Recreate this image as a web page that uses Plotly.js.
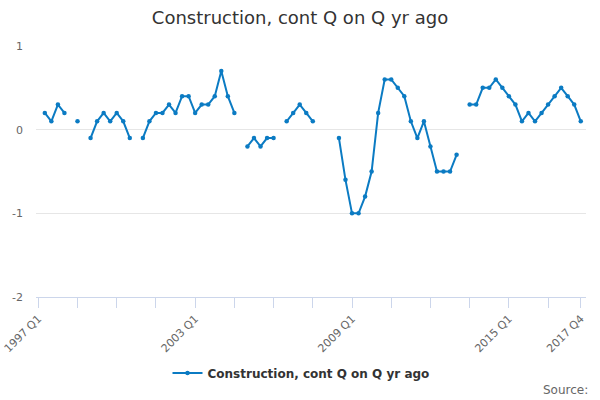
<!DOCTYPE html>
<html>
<head>
<meta charset="utf-8">
<script src="https://cdn.plot.ly/plotly-3.0.1.min.js"></script>
<style>html,body{margin:0;padding:0;background:#fff;}#chart{width:600px;height:400px;}</style>
</head>
<body>
<div id="chart"></div>
<script>
var quarters = [
"1997 Q1","1997 Q2","1997 Q3","1997 Q4","1998 Q1","1998 Q2","1998 Q3","1998 Q4",
"1999 Q1","1999 Q2","1999 Q3","1999 Q4","2000 Q1","2000 Q2","2000 Q3","2000 Q4",
"2001 Q1","2001 Q2","2001 Q3","2001 Q4","2002 Q1","2002 Q2","2002 Q3","2002 Q4",
"2003 Q1","2003 Q2","2003 Q3","2003 Q4","2004 Q1","2004 Q2","2004 Q3","2004 Q4",
"2005 Q1","2005 Q2","2005 Q3","2005 Q4","2006 Q1","2006 Q2","2006 Q3","2006 Q4",
"2007 Q1","2007 Q2","2007 Q3","2007 Q4","2008 Q1","2008 Q2","2008 Q3","2008 Q4",
"2009 Q1","2009 Q2","2009 Q3","2009 Q4","2010 Q1","2010 Q2","2010 Q3","2010 Q4",
"2011 Q1","2011 Q2","2011 Q3","2011 Q4","2012 Q1","2012 Q2","2012 Q3","2012 Q4",
"2013 Q1","2013 Q2","2013 Q3","2013 Q4","2014 Q1","2014 Q2","2014 Q3","2014 Q4",
"2015 Q1","2015 Q2","2015 Q3","2015 Q4","2016 Q1","2016 Q2","2016 Q3","2016 Q4",
"2017 Q1","2017 Q2","2017 Q3","2017 Q4"
];
var construction = [
null,0.2,0.1,0.3,0.2,null,0.1,null,
-0.1,0.1,0.2,0.1,0.2,0.1,-0.1,null,
-0.1,0.1,0.2,0.2,0.3,0.2,0.4,0.4,
0.2,0.3,0.3,0.4,0.7,0.4,0.2,null,
-0.2,-0.1,-0.2,-0.1,-0.1,null,0.1,0.2,
0.3,0.2,0.1,null,null,null,-0.1,-0.6,
-1.0,-1.0,-0.8,-0.5,0.2,0.6,0.6,0.5,
0.4,0.1,-0.1,0.1,-0.2,-0.5,-0.5,-0.5,
-0.3,null,0.3,0.3,0.5,0.5,0.6,0.5,
0.4,0.3,0.1,0.2,0.1,0.2,0.3,0.4,
0.5,0.4,0.3,0.1
];
var tickQuarters = ["1997 Q1","1998 Q3","2000 Q1","2001 Q3","2003 Q1","2004 Q3","2006 Q1","2007 Q3",
"2009 Q1","2010 Q3","2012 Q1","2013 Q3","2015 Q1","2016 Q3","2017 Q4"];
var tickLabels = ["1997 Q1","","","","2003 Q1","","","","2009 Q1","","","","2015 Q1","","2017 Q4"];
var yTicks = [-2,-1,0,1];

var font = "DejaVu Sans, Verdana, sans-serif";
var blue = "#0b7bc3";

var trace = {
  x: quarters,
  y: construction,
  type: "scatter",
  mode: "lines+markers",
  name: "Construction, cont Q on Q yr ago",
  connectgaps: false,
  line: {color: blue, width: 2},
  marker: {color: blue, size: 4.5}
};

var layout = {
  width: 600, height: 400,
  paper_bgcolor: "#fff", plot_bgcolor: "#fff",
  margin: {l: 36, r: 14, t: 46, b: 103},
  font: {family: font, color: "#666"},
  title: {
    text: "Construction, cont Q on Q yr ago",
    font: {family: font, size: 18, color: "#333"},
    x: 0.5, xanchor: "center",
    yref: "container", y: 1 - 18/400, yanchor: "middle"
  },
  xaxis: {
    type: "category",
    range: [-0.35, 83.8],
    tickmode: "array",
    tickvals: tickQuarters,
    ticktext: tickLabels,
    tickangle: -45,
    ticks: "outside",
    ticklen: 10,
    tickcolor: "#ccd6eb",
    tickfont: {family: font, size: 11, color: "#666"},
    showline: true,
    linecolor: "#ccd6eb",
    linewidth: 1,
    showgrid: false,
    zeroline: false,
    fixedrange: true
  },
  yaxis: {
    range: [-2, 1],
    tickmode: "array",
    tickvals: yTicks,
    ticktext: yTicks.map(String),
    tickfont: {family: font, size: 11, color: "#666"},
    showgrid: true,
    gridcolor: "#e6e6e6",
    zeroline: false,
    showline: false,
    ticks: "",
    ticklabelstandoff: 12,
    fixedrange: true
  },
  showlegend: true,
  legend: {
    orientation: "h",
    x: 0.5 - 10/550, xanchor: "center",
    y: (297 - 373) / 251, yanchor: "middle",
    font: {family: font, size: 12, color: "#333", weight: "bold"},
    itemwidth: 30,
    bgcolor: "rgba(0,0,0,0)"
  },
  annotations: [{
    text: "Source:",
    xref: "paper", yref: "paper",
    x: (590 - 36) / 550, xanchor: "right",
    y: (297 - 390) / 251, yanchor: "middle",
    showarrow: false,
    font: {family: font, size: 12, color: "#666"}
  }]
};

Plotly.newPlot("chart", [trace], layout, {displayModeBar: false, staticPlot: true});
</script>
</body>
</html>
